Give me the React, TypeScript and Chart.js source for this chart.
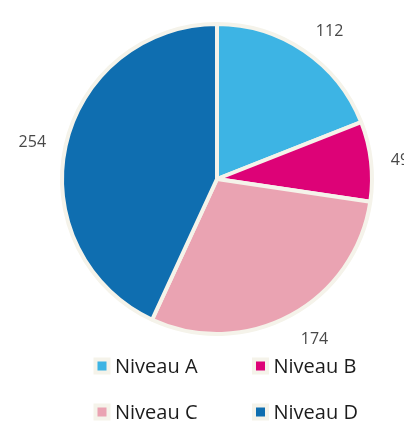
import React, { useEffect, useRef } from "react";
import { Chart, registerables } from "chart.js";

Chart.register(...registerables);

const categories = ["Niveau A", "Niveau B", "Niveau C", "Niveau D"];
const values = [112, 49, 174, 254];
const colors = ["#3db4e4", "#dd0277", "#eaa3b2", "#0f6eb0"];
const borderColor = "#f5f3ea";

const labelPlugin = {
  id: "outerLabels",
  afterDatasetsDraw(chart: any) {
    const ctx = chart.ctx;
    const meta = chart.getDatasetMeta(0);
    ctx.save();
    ctx.font = "16px 'Open Sans'";
    ctx.fillStyle = "#484848";
    ctx.textAlign = "center";
    ctx.textBaseline = "middle";
    const h = 13;
    meta.data.forEach((arc: any, i: number) => {
      const { x, y, startAngle, endAngle, outerRadius } = arc.getProps(
        ["x", "y", "startAngle", "endAngle", "outerRadius"],
        true
      );
      const mid = (startAngle + endAngle) / 2;
      const r = outerRadius + 19;
      const dx = Math.cos(mid);
      const dy = Math.sin(mid);
      const text = String(values[i]);
      const w = ctx.measureText(text).width;
      const px = x + dx * r + Math.sign(dx) * (w / 2 + 1);
      const py = y + dy * r + dy * (h / 2) + 2;
      ctx.fillText(text, px, py);
    });
    ctx.restore();
  },
};

const legendPlugin = {
  id: "gridLegend",
  afterDraw(chart: any) {
    const ctx = chart.ctx;
    const colX = [102, 260.5];
    const rowY = [366, 412];
    ctx.save();
    ctx.font = "20px 'Open Sans'";
    ctx.textAlign = "left";
    ctx.textBaseline = "middle";
    categories.forEach((name, i) => {
      const cx = colX[i % 2];
      const cy = rowY[Math.floor(i / 2)];
      ctx.fillStyle = borderColor;
      ctx.fillRect(cx - 8.5, cy - 8.5, 17, 17);
      ctx.fillStyle = colors[i];
      ctx.fillRect(cx - 4.5, cy - 4.5, 9, 9);
      ctx.fillStyle = "#1c1c1c";
      ctx.fillText(name, cx + 13, cy + 1);
    });
    ctx.restore();
  },
};

export default function App() {
  const ref = useRef<HTMLCanvasElement>(null);
  useEffect(() => {
    document.body.style.margin = "0";
    const chart = new Chart(ref.current!, {
      type: "pie",
      data: {
        labels: categories,
        datasets: [
          {
            data: values,
            backgroundColor: colors,
            borderColor: borderColor,
            borderWidth: 4,
            hoverOffset: 0,
          },
        ],
      },
      options: {
        responsive: false,
        animation: false,
        layout: { padding: { top: 22, bottom: 91, left: 40, right: 10 } },
        plugins: {
          legend: { display: false },
          tooltip: { enabled: false },
        },
      },
      plugins: [labelPlugin, legendPlugin],
    });
    return () => chart.destroy();
  }, []);
  return <canvas ref={ref} width={404} height={427} style={{ display: "block" }} />;
}
